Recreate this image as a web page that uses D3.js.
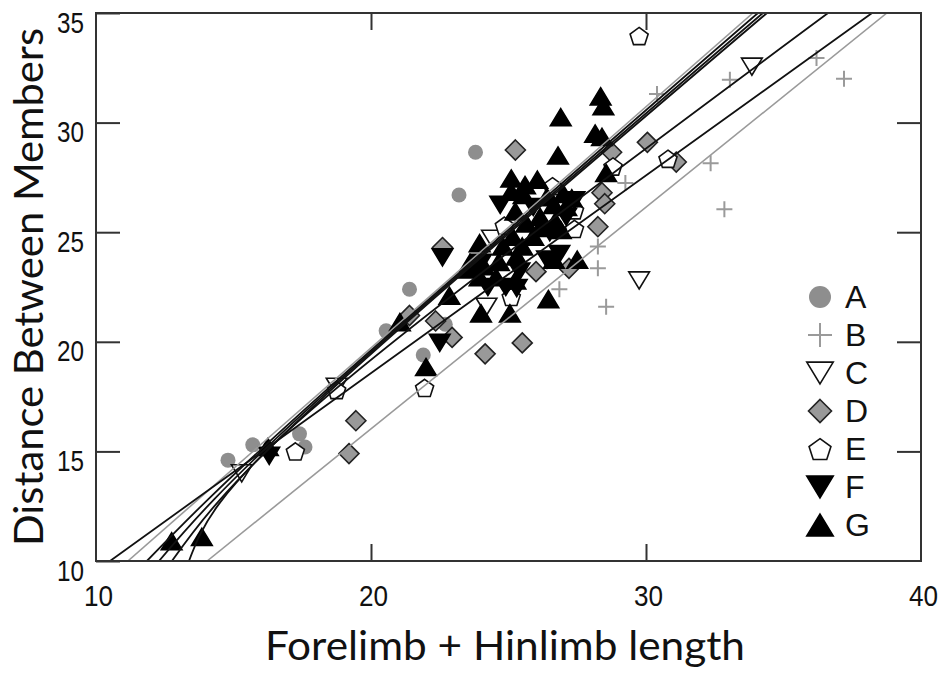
<!DOCTYPE html>
<html>
<head>
<meta charset="utf-8">
<script src="https://cdn.jsdelivr.net/npm/d3@7"></script>
<style>
  body { margin: 0; background: #fff; }
  svg { display: block; }
</style>
</head>
<body>
<div id="chart"></div>
<script>
// points, [limb length, distance]
const seriesA = [[14.8, 14.6], [15.7, 15.3], [17.4, 15.8], [17.6, 15.2], [20.55, 20.5], [21.4, 22.4],
  [21.9, 19.4], [22.7, 20.8], [23.2, 26.7], [23.8, 28.65]];
const seriesB = [[29.25, 27.25], [30.4, 31.3], [32.35, 28.15], [32.85, 26.05], [33.05, 31.95], [36.2, 32.95],
  [37.2, 32.0], [28.25, 24.35], [28.25, 23.35], [26.85, 22.4], [28.55, 21.6]];
const seriesC = [[15.3, 14.0], [18.75, 17.95], [24.2, 21.6], [24.4, 24.7], [29.75, 22.8], [33.85, 32.55]];
const seriesD = [[19.2, 14.9], [19.45, 16.4], [21.4, 21.2], [22.35, 20.95], [22.6, 24.3], [22.95, 20.2],
  [24.15, 19.45], [25.25, 28.75], [25.5, 19.95], [26.0, 23.2], [27.2, 23.35], [28.25, 25.25],
  [28.4, 26.8], [28.5, 26.3], [28.75, 28.65], [30.05, 29.1], [31.1, 28.2]];
const seriesE = [[17.25, 15.0], [18.75, 17.8], [21.95, 17.9], [24.85, 25.3], [25.1, 22.05], [26.6, 27.1],
  [27.4, 26.0], [27.4, 25.15], [28.8, 28.0], [29.75, 33.95], [30.8, 28.35]];
const seriesF = [[16.3, 14.8], [22.5, 19.95], [22.6, 23.85], [24.0, 23.6], [24.25, 22.5], [24.9, 22.5],
  [25.3, 22.45], [25.4, 23.2], [25.9, 26.15], [26.4, 23.75], [26.5, 25.0], [26.85, 24.0],
  [27.1, 25.7], [27.4, 26.45], [24.7, 26.25]];
const seriesG = [[12.75, 10.9], [13.85, 11.1], [16.25, 15.2], [21.05, 20.9], [22.0, 18.85], [22.85, 22.1],
  [23.5, 23.3], [23.6, 23.6], [23.95, 24.5], [23.95, 22.95], [24.0, 21.3], [24.1, 23.45],
  [24.55, 22.95], [24.65, 23.65], [24.8, 24.35], [25.05, 21.3], [25.1, 27.45], [25.1, 26.85],
  [25.15, 24.8], [25.25, 25.95], [25.25, 22.8], [25.3, 23.9], [25.5, 24.35], [25.55, 26.7],
  [25.6, 27.15], [25.65, 25.4], [25.9, 24.8], [26.05, 27.4], [26.15, 25.7], [26.15, 25.2],
  [26.4, 26.6], [26.45, 21.95], [26.65, 26.25], [26.65, 23.75], [26.7, 25.5], [26.8, 28.5],
  [26.9, 30.25], [26.9, 25.1], [27.0, 26.75], [27.1, 26.15], [27.3, 26.55], [27.5, 23.75],
  [28.15, 29.5], [28.35, 31.2], [28.4, 29.35], [28.45, 30.75], [28.55, 27.7]];

// fitted curves, points
const fitA = [[11.16, 10], [33.89, 35]];
const fitB = [[14.04, 10], [38.76, 35]];
const fitC = [[11.85, 10], [18.2, 17.6], [34.07, 35]];
const fitD = [[10.51, 10], [18.2, 16.95], [38.22, 35]];
const fitE = [[13.38, 10], [18.2, 17.3], [36.62, 35]];
const fitF = [[12.29, 10], [18.2, 17.5], [34.25, 35]];
const fitG = [[12.76, 10], [18.2, 17.4], [34.4, 35]];

const groupNames = ["A", "B", "C", "D", "E", "F", "G"];
const xTicks = [10, 20, 30, 40];
const yTicks = [10, 15, 20, 25, 30, 35];

const groups = [
  { name: "A", pts: seriesA, fit: fitA, shape: "circle", fill: "#8e8e8e", stroke: "none", line: "#9a9a9a" },
  { name: "B", pts: seriesB, fit: fitB, shape: "plus", fill: "none", stroke: "#9a9a9a", line: "#9a9a9a" },
  { name: "C", pts: seriesC, fit: fitC, shape: "down", fill: "#fff", stroke: "#111", line: "#111" },
  { name: "D", pts: seriesD, fit: fitD, shape: "diamond", fill: "#999", stroke: "#222", line: "#111" },
  { name: "E", pts: seriesE, fit: fitE, shape: "pentagon", fill: "#fff", stroke: "#111", line: "#111" },
  { name: "F", pts: seriesF, fit: fitF, shape: "down", fill: "#000", stroke: "#000", line: "#111" },
  { name: "G", pts: seriesG, fit: fitG, shape: "up", fill: "#000", stroke: "#000", line: "#111" },
];

const width = 944;
const height = 675;
const plot = { left: 96, right: 921, top: 13, bottom: 561 };

const svg = d3.select("#chart").append("svg")
  .attr("width", width)
  .attr("height", height);

const xScale = d3.scaleLinear().domain([10, 40]).range([plot.left, plot.right]);
const yScale = d3.scaleLinear().domain([10, 35]).range([plot.bottom, plot.top]);

// marker outlines centred on 0,0
function shapePath(shape, s) {
  if (shape === "circle") {
    return `M${s},0A${s},${s} 0 1,1 ${-s},0A${s},${s} 0 1,1 ${s},0Z`;
  }
  if (shape === "plus") {
    return `M${-s},0H${s}M0,${-s}V${s}`;
  }
  if (shape === "diamond") {
    return `M0,${-s}L${s},0L0,${s}L${-s},0Z`;
  }
  if (shape === "up") {
    const w = s * 1.15, h = s * 0.95;
    return `M0,${-h}L${w},${h}L${-w},${h}Z`;
  }
  if (shape === "down") {
    const w = s * 1.15, h = s * 0.95;
    return `M0,${h}L${w},${-h}L${-w},${-h}Z`;
  }
  if (shape === "pentagon") {
    const pts = d3.range(5).map((i) => {
      const a = -Math.PI / 2 + (i * 2 * Math.PI) / 5;
      return [s * Math.cos(a), s * Math.sin(a) + s * 0.1];
    });
    return "M" + pts.map((p) => p.join(",")).join("L") + "Z";
  }
}

const plotSize = { circle: 7.5, plus: 8, diamond: 10, up: 9, down: 9, pentagon: 9.5 };
const legendSize = { circle: 11, plus: 12, diamond: 11.5, up: 11.5, down: 11.5, pentagon: 11.5 };

svg.append("clipPath").attr("id", "clip")
  .append("rect")
  .attr("x", plot.left).attr("y", plot.top)
  .attr("width", plot.right - plot.left).attr("height", plot.bottom - plot.top);

// markers
const marks = svg.append("g").attr("class", "marks");
groups.forEach((g) => {
  marks.append("g")
    .selectAll("path")
    .data(g.pts)
    .join("path")
    .attr("transform", (d) => `translate(${xScale(d[0])},${yScale(d[1])})`)
    .attr("d", shapePath(g.shape, plotSize[g.shape]))
    .attr("fill", g.fill)
    .attr("stroke", g.stroke)
    .attr("stroke-width", g.shape === "plus" ? 2 : 1.6)
    .attr("stroke-linejoin", "miter");
});

// fit curves on top
const line = d3.line()
  .x((d) => xScale(d[0]))
  .y((d) => yScale(d[1]))
  .curve(d3.curveNatural);

const fits = svg.append("g").attr("clip-path", "url(#clip)");
groups.forEach((g) => {
  fits.append("path")
    .datum(g.fit)
    .attr("d", line)
    .attr("fill", "none")
    .attr("stroke", g.line)
    .attr("stroke-width", g.line === "#111" ? 1.8 : 1.6);
});

// axes, ticks pointing inward
function styleAxis(sel) {
  sel.select(".domain").remove();
  sel.selectAll(".tick line").attr("stroke", "#333").attr("stroke-width", 2);
  sel.selectAll("text")
    .attr("fill", "#111")
    .style("font-family", "'Liberation Sans', Arial, sans-serif")
    .style("font-size", "30px")
    .attr("textLength", 27)
    .attr("lengthAdjust", "spacingAndGlyphs");
}

svg.append("g")
  .attr("transform", `translate(${plot.left},0)`)
  .call(d3.axisLeft(yScale).tickValues(yTicks).tickSizeInner(-24).tickSizeOuter(0).tickPadding(12))
  .call(styleAxis)
  .call((g) => g.selectAll("text").attr("dy", "19px"));

svg.append("g")
  .attr("transform", `translate(${plot.right},0)`)
  .call(d3.axisRight(yScale).tickValues(yTicks.slice(1, -1)).tickSizeInner(-24).tickSizeOuter(0).tickFormat(""))
  .call(styleAxis);

svg.append("g")
  .attr("transform", `translate(0,${plot.bottom})`)
  .call(d3.axisBottom(xScale).tickValues(xTicks).tickSizeInner(-17).tickSizeOuter(0).tickPadding(24))
  .call(styleAxis)
  .call((g) => g.selectAll("text").attr("textLength", 29).attr("dx", "2px"))
  .call((g) => g.selectAll(".tick").filter((d) => d === 10 || d === 40).select("line").remove());

svg.append("g")
  .attr("transform", `translate(0,${plot.top})`)
  .call(d3.axisTop(xScale).tickValues(xTicks.slice(1, -1)).tickSizeInner(-17).tickSizeOuter(0).tickFormat(""))
  .call(styleAxis);

svg.append("rect")
  .attr("x", plot.left).attr("y", plot.top)
  .attr("width", plot.right - plot.left).attr("height", plot.bottom - plot.top)
  .attr("fill", "none")
  .attr("stroke", "#333")
  .attr("stroke-width", 2);

// axis titles
svg.append("text")
  .attr("x", 505)
  .attr("y", 660)
  .attr("text-anchor", "middle")
  .attr("fill", "#111")
  .style("font-family", "Lato, 'Open Sans', sans-serif")
  .style("font-size", "40px")
  .attr("textLength", 480)
  .attr("lengthAdjust", "spacingAndGlyphs")
  .text("Forelimb + Hinlimb length");

svg.append("text")
  .attr("transform", "translate(43,287) rotate(-90)")
  .attr("text-anchor", "middle")
  .attr("fill", "#111")
  .style("font-family", "Lato, 'Open Sans', sans-serif")
  .style("font-size", "40px")
  .attr("textLength", 518)
  .attr("lengthAdjust", "spacingAndGlyphs")
  .text("Distance Between Members");

// legend
const legend = svg.append("g").attr("transform", "translate(820,297)");
const rows = legend.selectAll("g")
  .data(groups)
  .join("g")
  .attr("transform", (d, i) => `translate(0,${i * 38})`);

rows.append("path")
  .attr("d", (d) => shapePath(d.shape, legendSize[d.shape]))
  .attr("fill", (d) => d.fill)
  .attr("stroke", (d) => d.stroke)
  .attr("stroke-width", (d) => (d.shape === "plus" ? 2 : 1.6));

rows.append("text")
  .attr("x", 25)
  .attr("y", 11)
  .attr("fill", "#111")
  .style("font-family", "'Liberation Sans', Arial, sans-serif")
  .style("font-size", "32px")
  .text((d, i) => groupNames[i]);
</script>
</body>
</html>
